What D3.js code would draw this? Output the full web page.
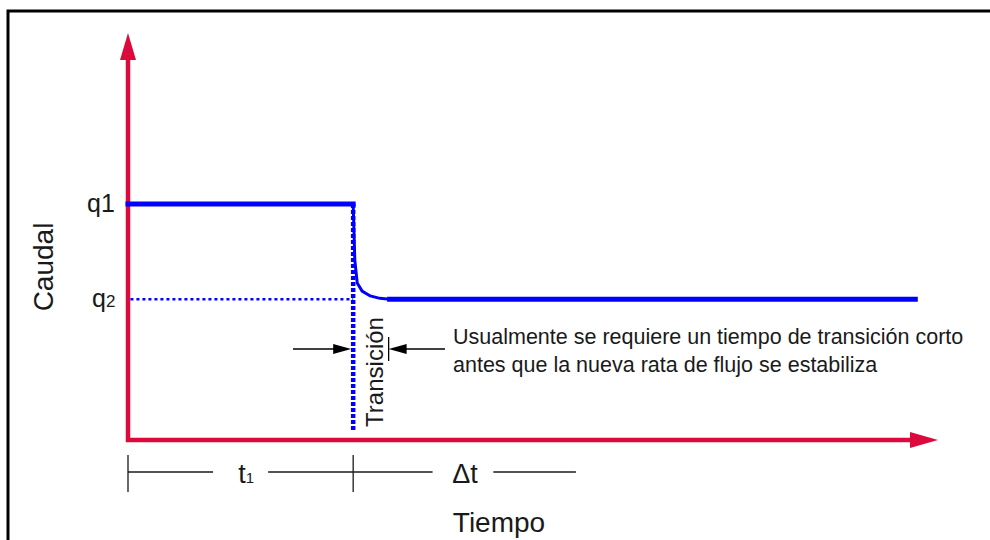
<!DOCTYPE html>
<html>
<head>
<meta charset="utf-8">
<script src="https://cdn.jsdelivr.net/npm/d3@7"></script>
<style>
  body { margin: 0; background: #fff; }
  text { font-family: "Liberation Sans", Arial, sans-serif; fill: #1a1a1a; }
</style>
</head>
<body>
<div class="chart"></div>
<script>
var svgWidth = 990;
var svgHeight = 540;

// data (x = tiempo, y = caudal, both 0..100)
var q1 = 58;
var q2 = 34.6;
var t1 = 27.8;
var tEndTrans = 32.3;
var tEnd = 97.2;
var yLabels = [{label: "q1", value: q1, sub: false, x0: 87}, {label: "q", value: q2, sub: "2", x0: 92}];
var flowBefore = [[0, q1], [t1, q1]];
var transCurve = [[t1, q1], [28.0, 44.2], [28.3, 38.6], [28.9, 36.6], [29.9, 35.4], [31.1, 34.8], [tEndTrans, q2]];
var flowAfter = [[tEndTrans, q2], [tEnd, q2]];
var q2Guide = [[0.3, q2], [t1, q2]];
var dropLine = [[t1, q1], [t1, 2]];
var spanSegs = [[0, 10.5], [17.3, 27.8], [27.8, 37.6], [45.1, 55.3]];
var spanTicks = [0, t1];
var spanLabels = [{text: "t", sub: "1", x: 14.6}, {text: "\u0394t", sub: "", x: 41.6}];
var note = ["Usualmente se requiere un tiempo de transición corto",
            "antes que la nueva rata de flujo se estabiliza"];

var red = "#dc0a3c";
var blue = "#0000ff";

var svg = d3.select(".chart")
  .append("svg")
  .attr("width", svgWidth)
  .attr("height", svgHeight);

var x = d3.scaleLinear().domain([0, 100]).range([128, 938]);
var y = d3.scaleLinear().domain([0, 100]).range([440, 33]);

// frame
svg.append("path")
  .attr("d", "M8,545 V11 H995")
  .attr("fill", "none")
  .attr("stroke", "#000")
  .attr("stroke-width", 3);

var lineFunc = d3.line()
  .x(function(d) { return x(d[0]) })
  .y(function(d) { return y(d[1]) });

// red axes with arrow heads
svg.append("line")
  .attr("x1", x(0)).attr("y1", y(0) + 2)
  .attr("x2", x(0)).attr("y2", y(100) + 22)
  .attr("stroke", red).attr("stroke-width", 4.5);
svg.append("path")
  .attr("d", "M" + x(0) + "," + y(100) + " l-8,27 h16 z")
  .attr("fill", red);
svg.append("line")
  .attr("x1", x(0) - 2).attr("y1", y(0))
  .attr("x2", x(100) - 22).attr("y2", y(0))
  .attr("stroke", red).attr("stroke-width", 4.5);
svg.append("path")
  .attr("d", "M" + x(100) + "," + y(0) + " l-28,-8 v16 z")
  .attr("fill", red);

// blue flow lines
svg.append("path")
  .attr("d", lineFunc(q2Guide))
  .attr("fill", "none").attr("stroke", blue)
  .attr("stroke-width", 2.5).attr("stroke-dasharray", "3,3");
svg.append("path")
  .attr("d", lineFunc(dropLine))
  .attr("fill", "none").attr("stroke", blue)
  .attr("stroke-width", 4.5).attr("stroke-dasharray", "4,2");
svg.append("path")
  .attr("d", lineFunc(transCurve))
  .attr("fill", "none").attr("stroke", blue)
  .attr("stroke-width", 3);
svg.selectAll(".flow")
  .data([flowBefore, flowAfter])
  .enter().append("path")
  .attr("class", "flow")
  .attr("d", lineFunc)
  .attr("fill", "none").attr("stroke", blue)
  .attr("stroke-width", 5).attr("stroke-linecap", "square");

// q labels
yLabels.forEach(function(d) {
  var t = svg.append("text")
    .attr("x", d.x0).attr("y", y(d.value) + 8)
    .attr("font-size", 25)
    .text(d.label);
  if (d.sub) {
    t.append("tspan").attr("font-size", 17).text(d.sub);
  }
});

svg.append("text")
  .attr("transform", "translate(53,267) rotate(-90)")
  .attr("text-anchor", "middle")
  .attr("font-size", 28)
  .text("Caudal");

// transition markers
var arrowY = 349;
svg.append("line")
  .attr("x1", 293).attr("y1", arrowY).attr("x2", x(t1) - 14).attr("y2", arrowY)
  .attr("stroke", "#000").attr("stroke-width", 1.3);
svg.append("path")
  .attr("d", "M" + (x(t1) - 2) + "," + arrowY + " l-18,-5 v10 z")
  .attr("fill", "#000");
svg.append("line")
  .attr("x1", x(tEndTrans) + 12).attr("y1", arrowY).attr("x2", 445).attr("y2", arrowY)
  .attr("stroke", "#000").attr("stroke-width", 1.3);
svg.append("path")
  .attr("d", "M" + (x(tEndTrans) - 1) + "," + arrowY + " l18,-5 v10 z")
  .attr("fill", "#000");
svg.append("line")
  .attr("x1", x(tEndTrans) - 1).attr("y1", 337).attr("x2", x(tEndTrans) - 1).attr("y2", 361)
  .attr("stroke", "#000").attr("stroke-width", 1.3);

svg.append("text")
  .attr("transform", "translate(383,372) rotate(-90)")
  .attr("text-anchor", "middle")
  .attr("font-size", 24)
  .text("Transición");

svg.selectAll(".note")
  .data(note)
  .enter().append("text")
  .attr("class", "note")
  .attr("x", 453)
  .attr("y", function(d, i) { return 344 + i * 28 })
  .attr("font-size", 21.5)
  .text(function(d) { return d });

// time spans below the axis
var spanY = 472;
svg.selectAll(".span")
  .data(spanSegs)
  .enter().append("line")
  .attr("class", "span")
  .attr("x1", function(d) { return x(d[0]) })
  .attr("x2", function(d) { return x(d[1]) })
  .attr("y1", spanY).attr("y2", spanY)
  .attr("stroke", "#1a1a1a").attr("stroke-width", 1.3);
svg.selectAll(".tick")
  .data(spanTicks)
  .enter().append("line")
  .attr("class", "tick")
  .attr("x1", function(d) { return x(d) })
  .attr("x2", function(d) { return x(d) })
  .attr("y1", 455).attr("y2", 492)
  .attr("stroke", "#1a1a1a").attr("stroke-width", 1.3);
spanLabels.forEach(function(d) {
  var t = svg.append("text")
    .attr("x", x(d.x)).attr("y", spanY + 11)
    .attr("text-anchor", "middle")
    .attr("font-size", 27)
    .text(d.text);
  if (d.sub) t.append("tspan").attr("font-size", 15).text(d.sub);
});

svg.append("text")
  .attr("x", 499).attr("y", 532)
  .attr("text-anchor", "middle")
  .attr("font-size", 28)
  .text("Tiempo");
</script>
</body>
</html>
